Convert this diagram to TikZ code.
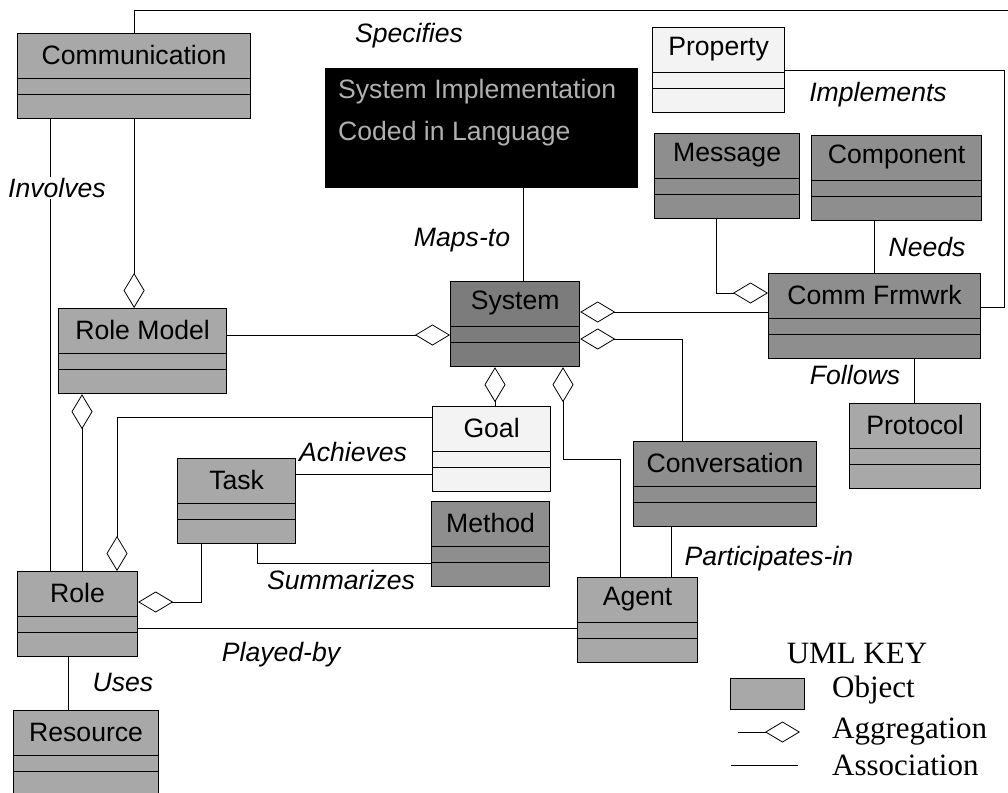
\documentclass[tikz,border=0pt]{standalone}
\usepackage{fontspec}
\setmainfont{Liberation Sans}
\newfontfamily\keyfont{Liberation Serif}
\usepackage{xcolor}
\usepackage{tikz}
\usetikzlibrary{calc}
\usetikzlibrary{arrows.meta}

\definecolor{objlight}{HTML}{A8A8A8}
\definecolor{objdark}{HTML}{8E8E8E}
\definecolor{objsys}{HTML}{7C7C7C}
\definecolor{objpale}{HTML}{F3F3F3}
\definecolor{implgray}{HTML}{B0B0B0}

\begin{document}
\begin{tikzpicture}[x=1pt,y=-1pt,
	obj/.style={draw,line width=1.2pt,anchor=north west,inner sep=0pt,minimum height=85pt,
		path picture={
			\draw[line width=0.8pt] ([yshift=-45pt]path picture bounding box.north west) -- ([yshift=-45pt]path picture bounding box.north east);
			\draw[line width=0.8pt] ([yshift=-61pt]path picture bounding box.north west) -- ([yshift=-61pt]path picture bounding box.north east);}},
	title/.style={anchor=center,yshift=-22pt,inner sep=0pt,font=\fontsize{26.6}{30}\selectfont},
	lbl/.style={font=\fontsize{26.6}{30}\selectfont\itshape,inner sep=1pt},
	assoc/.style={line width=0.8pt},
	aggend/.style={assoc,-{Diamond[open,length=35pt,width=21pt]}},
	aggstart/.style={assoc,{Diamond[open,length=35pt,width=21pt]}-},
	key/.style={font=\keyfont\fontsize{31}{34}\selectfont,anchor=west,inner sep=0pt}]
	\useasboundingbox (0,0) rectangle (1008,792);
	\coordinate (edgetop) at (1015,10);
	\coordinate (edgeright) at (1015,0);

	\node[obj,fill=objlight,minimum width=233pt,label={[title]north:Communication}] (comm) at (17,33) {};
	\node[obj,fill=objpale,minimum width=132pt,label={[title]north:Property}] (property) at (652,27) {};
	\node[obj,fill=objdark,minimum width=145pt,label={[title]north:Message}] (message) at (654,133) {};
	\node[obj,fill=objdark,minimum width=170pt,label={[title]north:Component}] (component) at (811,135) {};
	\node[obj,fill=objlight,minimum width=168pt,label={[title]north:Role Model}] (rolemodel) at (58,308) {};
	\node[obj,fill=objsys,minimum width=129pt,label={[title]north:System}] (system) at (450,281) {};
	\node[obj,fill=objdark,minimum width=212pt,label={[title]north:Comm Frmwrk}] (commfw) at (768,273) {};
	\node[obj,fill=objpale,minimum width=118pt,label={[title]north:Goal}] (goal) at (432,406) {};
	\node[obj,fill=objlight,minimum width=118pt,label={[title]north:Task}] (task) at (177,458) {};
	\node[obj,fill=objdark,minimum width=118pt,label={[title]north:Method}] (method) at (431,501) {};
	\node[obj,fill=objlight,minimum width=131pt,label={[title]north:Protocol}] (protocol) at (849,403) {};
	\node[obj,fill=objdark,minimum width=183pt,label={[title]north:Conversation}] (conversation) at (633,441) {};
	\node[obj,fill=objlight,minimum width=120pt,label={[title]north:Role}] (role) at (17,571) {};
	\node[obj,fill=objlight,minimum width=120pt,label={[title]north:Agent}] (agent) at (577,577) {};
	\node[obj,fill=objlight,minimum width=145pt,label={[title]north:Resource}] (resource) at (13,710) {};

	\node[fill=black,anchor=north west,minimum width=313pt,minimum height=120pt,inner sep=0pt] (sysimpl) at (325,68) {};
	\node[font=\fontsize{26.6}{42}\selectfont,text=implgray,align=left,anchor=north west,inner sep=0pt] (sysimpltxt) at (338,79) {System Implementation\\Coded in Language};

	\draw[assoc] (comm.north) |- (edgetop);
	\draw[aggend] (comm.south) -- (comm.south |- rolemodel.north);
	\draw[assoc] ($(comm.south west)+(33,0)$) coordinate (inv) -- (inv |- role.north);
	\draw[aggend] ($(rolemodel.north east)+(0,27)$) coordinate (rm) -- (rm -| system.west);
	\draw[aggstart] ($(rolemodel.south west)+(24,0)$) coordinate (rr) -- (rr |- role.north);
	\draw[assoc] ($(sysimpl.south west)+(198,0)$) coordinate (mt) -- (mt |- system.north);
	\draw[aggstart] ($(system.north east)+(0,31)$) coordinate (sc) -- (sc -| commfw.west);
	\draw[aggend] ($(message.south west)+(62,0)$) |- ($(commfw.north west)+(0,20)$);
	\draw[assoc] ($(component.south west)+(63,0)$) coordinate (nd) -- (nd |- commfw.north);
	\draw[assoc] ($(property.north east)+(0,43)$) -| ($(commfw.north east)+(23,34)$) coordinate (imp) -- (imp -| commfw.east);
	\draw[assoc] ($(commfw.south west)+(146,0)$) coordinate (fl) -- (fl |- protocol.north);
	\draw[aggstart] ($(system.north east)+(0,58)$) -| ($(conversation.north west)+(49,0)$);
	\draw[aggstart] ($(system.south west)+(45,0)$) coordinate (sg) -- (sg |- goal.north);
	\draw[aggstart] ($(system.south west)+(113,0)$) -- ++(0,92) -| ($(agent.north west)+(43,0)$);
	\draw[aggend] ($(goal.north west)+(0,11)$) -| ($(role.north west)+(100,0)$);
	\draw[assoc] ($(task.north east)+(0,16)$) coordinate (ac) -- (ac -| goal.west);
	\draw[assoc] ($(task.south west)+(80,0)$) |- ($(method.north west)+(0,62)$);
	\draw[aggend] ($(task.south west)+(24,0)$) |- ($(role.north east)+(0,31)$);
	\draw[assoc] ($(role.north east)+(0,57)$) coordinate (pb) -- (pb -| agent.west);
	\draw[assoc] ($(role.south west)+(51,0)$) coordinate (us) -- (us |- resource.north);
	\draw[assoc] ($(conversation.south west)+(38,0)$) coordinate (pi) -- (pi |- agent.north);
	\draw[assoc] ($(conversation.north east)+(0,56)$) -- ($(conversation.north east)+(0,56)$ -| edgeright);

	\node[lbl] (lspec) at (409,36) {Specifies};
	\node[lbl,fill=white] (linv) at (57,188) {Involves};
	\node[lbl] (lmaps) at (462,240) {Maps-to};
	\node[lbl] (limpl) at (878,95) {Implements};
	\node[lbl] (lneeds) at (927,247) {Needs};
	\node[lbl] (lfollow) at (855,375) {Follows};
	\node[lbl] (lach) at (353,452) {Achieves};
	\node[lbl] (lsum) at (341,580) {Summarizes};
	\node[lbl] (lplay) at (281,655) {Played-by};
	\node[lbl] (luses) at (123,682) {Uses};
	\node[lbl] (lpart) at (769,559) {Participates-in};

	\node[key,anchor=center] (keytitle) at (857,653) {UML KEY};
	\node[draw,line width=1.2pt,fill=objlight,minimum width=74pt,minimum height=31pt,anchor=north west,inner sep=0pt] (keyswatch) at (730,678) {};
	\node[key] (keyobj) at (832,690) {Object};
	\node[key] (keyagg) at (832,732) {Aggregation};
	\node[key] (keyassoc) at (832,765) {Association};
	\draw[aggend] ($(keyagg.west)+(-94,0)$) -- ($(keyagg.west)+(-32,0)$);
	\draw[assoc] ($(keyassoc.west)+(-101,0)$) -- ($(keyassoc.west)+(-34,0)$);
\end{tikzpicture}
\end{document}
